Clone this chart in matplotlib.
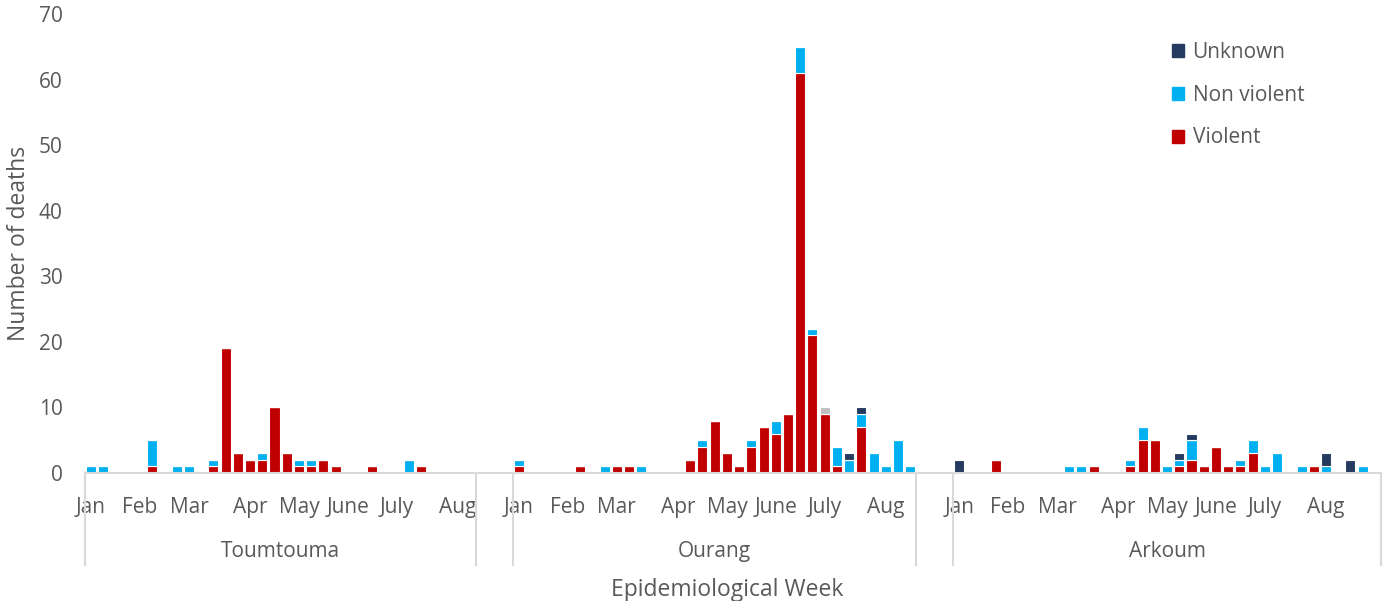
import matplotlib
matplotlib.use("Agg")
import matplotlib.pyplot as plt
import numpy as np
from matplotlib.patches import Patch
from matplotlib.lines import Line2D

plt.rcParams['font.family'] = ['Open Sans', 'DejaVu Sans']

# Weekly deaths per location (weeks counted from first week of Jan)
toum_violent    = [0,0,0,0,0,1,0,0,0,0,1,19,3,2,2,10,3,1,1,2,1,0,0,1,0,0,0,1,0,0,0,0]
toum_nonviolent = [1,1,0,0,0,4,0,1,1,0,1,0,0,0,1,0,0,1,1,0,0,0,0,0,0,0,2,0,0,0,0,0]
toum_other      = [0]*32
toum_unknown    = [0]*32

our_violent    = [1,0,0,0,0,1,0,0,1,1,0,0,0,0,2,4,8,3,1,4,7,6,9,61,21,9,1,0,7,0,0,0,0]
our_nonviolent = [1,0,0,0,0,0,0,1,0,0,1,0,0,0,0,1,0,0,0,1,0,2,0,4,1,0,3,2,2,3,1,5,1]
our_other      = [0,0,0,0,0,0,0,0,0,0,0,0,0,0,0,0,0,0,0,0,0,0,0,0,0,1,0,0,0,0,0,0,0]
our_unknown    = [0,0,0,0,0,0,0,0,0,0,0,0,0,0,0,0,0,0,0,0,0,0,0,0,0,0,0,1,1,0,0,0,0]

ark_violent    = [0,0,0,2,0,0,0,0,0,0,0,1,0,0,1,5,5,0,1,2,1,4,1,1,3,0,0,0,0,1,0,0,0,0,0]
ark_nonviolent = [0,0,0,0,0,0,0,0,0,1,1,0,0,0,1,2,0,1,1,3,0,0,0,1,2,1,3,0,1,0,1,0,0,1,0]
ark_other      = [0]*35
ark_unknown    = [2,0,0,0,0,0,0,0,0,0,0,0,0,0,0,0,0,0,1,1,0,0,0,0,0,0,0,0,0,0,2,0,2,0,0]

locations = ['Toumtouma', 'Ourang', 'Arkoum']
month_names = ['Jan', 'Feb', 'Mar', 'Apr', 'May', 'June', 'July', 'Aug']
month_weeks = [0, 4, 8, 13, 17, 21, 25, 30]
gap = 3  # empty categories between locations

groups = [
    (toum_violent, toum_nonviolent, toum_other, toum_unknown),
    (our_violent, our_nonviolent, our_other, our_unknown),
    (ark_violent, ark_nonviolent, ark_other, ark_unknown),
]

# build one long category axis
violent, nonviolent, other, unknown = [], [], [], []
starts, ends = [], []
for k, g in enumerate(groups):
    if k > 0:
        for lst in (violent, nonviolent, other, unknown):
            lst.extend([0] * gap)
    starts.append(len(violent))
    violent.extend(g[0]); nonviolent.extend(g[1]); other.extend(g[2]); unknown.extend(g[3])
    ends.append(len(violent))

violent = np.array(violent); nonviolent = np.array(nonviolent)
other = np.array(other); unknown = np.array(unknown)
n = len(violent)
x = np.arange(n) + 0.5

c_violent = '#C00000'
c_nonviolent = '#00B0F0'
c_other = '#BFBFBF'
c_unknown = '#243A5E'
txt = '#595959'
axis_col = '#D9D9D9'

fig = plt.figure(figsize=(13.83, 6.01), dpi=100)
ax = fig.add_axes([85/1383, 128/601, 1296/1383, 459/601])

w = 0.82
kw = dict(width=w, edgecolor='white', linewidth=0.8)
ax.bar(x, violent, color=c_violent, **kw)
ax.bar(x, nonviolent, bottom=violent, color=c_nonviolent, **kw)
ax.bar(x, other, bottom=violent + nonviolent, color=c_other, **kw)
ax.bar(x, unknown, bottom=violent + nonviolent + other, color=c_unknown, **kw)

ax.set_xlim(0, n)
ax.set_ylim(0, 70)
ax.set_yticks(range(0, 71, 10))
ax.tick_params(axis='y', length=0, pad=16, labelsize=15, labelcolor=txt)

ticks, labels = [], []
for s in starts:
    for m, wk in zip(month_names, month_weeks):
        ticks.append(s + wk + 0.5)
        labels.append(m)
ax.set_xticks(ticks)
ax.set_xticklabels(labels)
ax.tick_params(axis='x', length=0, pad=17, labelsize=15, labelcolor=txt)

for sp in ['top', 'right', 'left']:
    ax.spines[sp].set_visible(False)
ax.spines['bottom'].set_color(axis_col)
ax.spines['bottom'].set_linewidth(1.5)

# location brackets below the month labels
trans = ax.get_xaxis_transform()
for s, e, name in zip(starts, ends, locations):
    for xb in (s, e):
        ax.add_line(Line2D([xb, xb], [0, -0.2], transform=trans, color=axis_col,
                           linewidth=1.5, clip_on=False))
    ax.text((s + e) / 2, -0.17, name, transform=trans, ha='center', va='center',
            fontsize=15, color=txt)

ax.text(n / 2 - 0.5, -0.255, 'Epidemiological Week', transform=trans,
        ha='center', va='center', fontsize=16.5, color=txt)
ax.set_ylabel('Number of deaths', fontsize=16.5, color=txt, labelpad=6)

handles = [Patch(color=c_unknown), Patch(color=c_nonviolent), Patch(color=c_violent)]
ax.legend(handles, ['Unknown', 'Non violent', 'Violent'], loc='upper left',
          bbox_to_anchor=(1153/1383, 1 - 23/601), bbox_transform=fig.transFigure,
          frameon=False, fontsize=15, handlelength=0.6, handleheight=0.6,
          handletextpad=0.4, labelspacing=1.05, labelcolor=txt)

fig.savefig('out.png', dpi=100)
